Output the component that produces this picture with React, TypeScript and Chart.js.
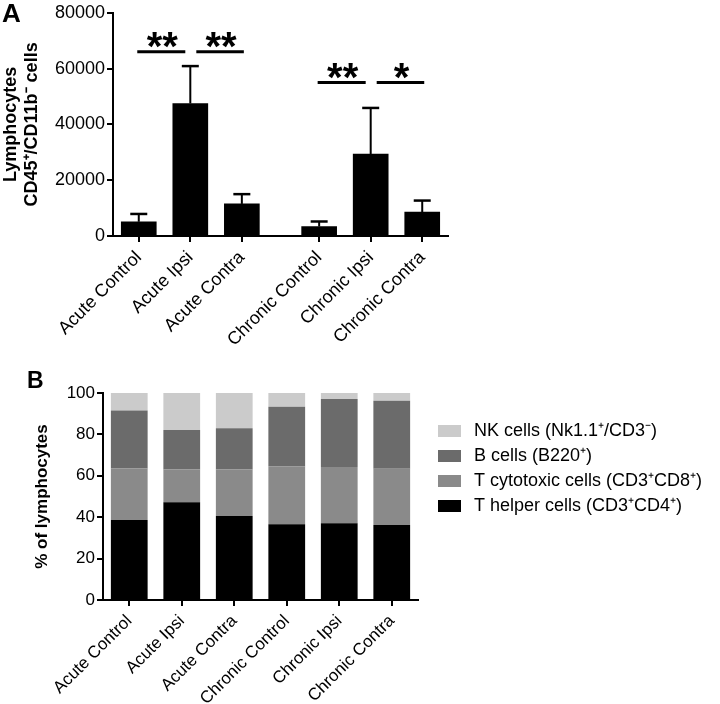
import React, { useEffect, useRef } from 'react';
import { Chart, registerables } from 'chart.js';

Chart.register(...registerables);

const FONT = '"Liberation Sans", Arial, Helvetica, sans-serif';

// ---------- Panel A data ----------
const categories = ['Acute Control', 'Acute Ipsi', 'Acute Contra', 'Chronic Control', 'Chronic Ipsi', 'Chronic Contra'];
const lymphocyteMeans = [5100, 47500, 11500, 3400, 29400, 8600];
const lymphocyteErrors = [2800, 13400, 3500, 1800, 16500, 4100];
const yTickStepA = 20000;
const yMaxA = 80000;
const significance = [
  { from: 0, to: 1, level: 66000, label: '**' },
  { from: 1, to: 2, level: 66000, label: '**' },
  { from: 3, to: 4, level: 55000, label: '**' },
  { from: 4, to: 5, level: 55000, label: '*' },
];
const yTitleA = ['Lymphocytes', 'CD45\u207A/CD11b\u207B cells'];

// ---------- Panel B data ----------
const tHelper = [38.7, 47.2, 40.6, 36.6, 37.1, 36.2];
const tCytotoxic = [24.8, 15.8, 22.4, 28.0, 27.1, 27.2];
const bCells = [28.0, 19.1, 20.0, 28.7, 32.9, 32.8];
const nkCells = [8.5, 17.9, 17.0, 6.7, 2.9, 3.8];
const seriesLabels = [
  'T helper cells (CD3\u207ACD4\u207A)',
  'T cytotoxic cells (CD3\u207ACD8\u207A)',
  'B cells (B220\u207A)',
  'NK cells (Nk1.1\u207A/CD3\u207B)',
];
const seriesColors = ['#000000', '#8a8a8a', '#6b6b6b', '#cbcbcb'];
const yTitleB = '% of lymphocytes';

// group structure on panel A: acute group then chronic group, with half-slot gap
const slotsA = categories.map((_, i) => i + (i >= 3 ? 0.5 : 0));

const letterPlugin = (letter: string, x: number, y: number, size: number) => ({
  id: 'panelLetter' + letter,
  afterDraw(chart: any) {
    const ctx = chart.ctx;
    ctx.save();
    ctx.fillStyle = '#000';
    ctx.font = `bold ${size}px ${FONT}`;
    ctx.textAlign = 'left';
    ctx.textBaseline = 'top';
    ctx.fillText(letter, x, y);
    ctx.restore();
  },
});

const errorBarPlugin = {
  id: 'errorBars',
  afterDatasetsDraw(chart: any) {
    const meta = chart.getDatasetMeta(0);
    const yScale = chart.scales.y;
    const ctx = chart.ctx;
    ctx.save();
    ctx.strokeStyle = '#000';
    meta.data.forEach((bar: any, i: number) => {
      const top = yScale.getPixelForValue(lymphocyteMeans[i] + lymphocyteErrors[i]);
      ctx.lineWidth = 2;
      ctx.beginPath();
      ctx.moveTo(bar.x, bar.y);
      ctx.lineTo(bar.x, top);
      ctx.stroke();
      ctx.lineWidth = 2.5;
      ctx.beginPath();
      ctx.moveTo(bar.x - 8.5, top);
      ctx.lineTo(bar.x + 8.5, top);
      ctx.stroke();
    });
    ctx.restore();
  },
};

const significancePlugin = {
  id: 'significance',
  afterDraw(chart: any) {
    const xScale = chart.scales.x;
    const yScale = chart.scales.y;
    const ctx = chart.ctx;
    ctx.save();
    ctx.strokeStyle = '#000';
    ctx.fillStyle = '#000';
    significance.forEach((s) => {
      const sharedLeft = significance.some((o) => o.to === s.from && o.level === s.level);
      const sharedRight = significance.some((o) => o.from === s.to && o.level === s.level);
      const x1 = xScale.getPixelForValue(slotsA[s.from]) + (sharedLeft ? 6 : -1.5);
      const x2 = xScale.getPixelForValue(slotsA[s.to]) + (sharedRight ? -5 : 2);
      const yy = yScale.getPixelForValue(s.level);
      ctx.lineWidth = 3;
      ctx.beginPath();
      ctx.moveTo(x1, yy);
      ctx.lineTo(x2, yy);
      ctx.stroke();
      ctx.font = `bold 40px ${FONT}`;
      ctx.textAlign = 'center';
      ctx.textBaseline = 'alphabetic';
      ctx.fillText(s.label, (x1 + x2) / 2 + 1, yy + 8);
    });
    ctx.restore();
  },
};

const legendPlugin = {
  id: 'customLegend',
  afterDraw(chart: any) {
    const ctx = chart.ctx;
    const area = chart.chartArea;
    const datasets = chart.data.datasets;
    const left = area.right + 20;
    const top = 65;
    ctx.save();
    ctx.font = `18px ${FONT}`;
    ctx.textAlign = 'left';
    ctx.textBaseline = 'middle';
    const order = datasets.map((_: any, i: number) => i).reverse();
    order.forEach((di: number, row: number) => {
      const ds = datasets[di];
      const y = top + row * 25;
      ctx.fillStyle = ds.backgroundColor;
      ctx.fillRect(left, y, 23, 12);
      ctx.fillStyle = '#000';
      ctx.fillText(ds.label, left + 36, y + 6.5);
    });
    ctx.restore();
  },
};

const axisCommon = {
  grid: { drawOnChartArea: false, offset: false, color: '#000', lineWidth: 2, tickLength: 6, tickColor: '#000', tickWidth: 2 },
  border: { color: '#000', width: 2 },
};

export default function App() {
  const refA = useRef<HTMLCanvasElement>(null);
  const refB = useRef<HTMLCanvasElement>(null);

  useEffect(() => {
    document.body.style.margin = '0';
    Chart.defaults.font.family = FONT;
    Chart.defaults.color = '#000';

    const chartA = new Chart(refA.current as HTMLCanvasElement, {
      type: 'bar',
      data: {
        datasets: [
          {
            data: slotsA.map((x, i) => ({ x, y: lymphocyteMeans[i] })),
            backgroundColor: '#000',
            borderWidth: 0,
            barThickness: 35,
          } as any,
        ],
      },
      options: {
        animation: false,
        responsive: false,
        events: [],
        layout: { padding: { top: 3, right: 272, left: 0, bottom: 0 } },
        plugins: { legend: { display: false }, tooltip: { enabled: false } },
        scales: {
          x: {
            type: 'linear',
            min: -0.5,
            max: 6,
            offset: false,
            afterBuildTicks: (s: any) => {
              s.ticks = slotsA.map((v) => ({ value: v }));
            },
            afterFit: (s: any) => {
              s.height = 124;
            },
            ticks: {
              autoSkip: false,
              minRotation: 45,
              maxRotation: 45,
              color: '#000',
              font: { size: 18 },
              padding: 5,
              callback: (_v: any, i: number) => categories[i],
            },
            ...axisCommon,
          } as any,
          y: {
            min: 0,
            max: yMaxA,
            afterFit: (s: any) => {
              s.width = 113;
            },
            ticks: {
              stepSize: yTickStepA,
              color: '#000',
              font: { size: 18 },
              padding: 2,
              callback: (v: any) => String(v),
            },
            title: {
              display: true,
              text: yTitleA,
              color: '#000',
              font: { size: 18, weight: 'bold' },
              padding: { top: 0, bottom: 0 },
            },
            ...axisCommon,
          } as any,
        },
      },
      plugins: [errorBarPlugin, significancePlugin, letterPlugin('A', 2, 2, 26)],
    });

    const valuesB = [tHelper, tCytotoxic, bCells, nkCells];
    const chartB = new Chart(refB.current as HTMLCanvasElement, {
      type: 'bar',
      data: {
        labels: categories,
        datasets: valuesB.map((d, i) => ({
          label: seriesLabels[i],
          data: d,
          backgroundColor: seriesColors[i],
          borderWidth: 0,
          barPercentage: 0.7,
          categoryPercentage: 1,
        })),
      },
      options: {
        animation: false,
        responsive: false,
        events: [],
        layout: { padding: { top: 33, right: 302, left: 0, bottom: 0 } },
        plugins: { legend: { display: false }, tooltip: { enabled: false } },
        scales: {
          x: {
            stacked: true,
            offset: true,
            afterFit: (s: any) => {
              s.height = 104;
            },
            ticks: {
              autoSkip: false,
              minRotation: 45,
              maxRotation: 45,
              color: '#000',
              font: { size: 17 },
              padding: 5,
            },
            ...axisCommon,
          } as any,
          y: {
            stacked: true,
            min: 0,
            max: 100,
            afterFit: (s: any) => {
              s.width = 103;
            },
            ticks: { stepSize: 20, color: '#000', font: { size: 17 }, padding: 2 },
            title: {
              display: true,
              text: yTitleB,
              color: '#000',
              font: { size: 17, weight: 'bold' },
              padding: { top: 32, bottom: 0 },
            },
            ...axisCommon,
          } as any,
        },
      },
      plugins: [legendPlugin, letterPlugin('B', 27, 10, 23)],
    });

    return () => {
      chartA.destroy();
      chartB.destroy();
    };
  }, []);

  return (
    <div style={{ width: 720, height: 704, background: '#fff' }}>
      <canvas ref={refA} width={720} height={360} style={{ display: 'block' }} />
      <canvas ref={refB} width={720} height={344} style={{ display: 'block' }} />
    </div>
  );
}
